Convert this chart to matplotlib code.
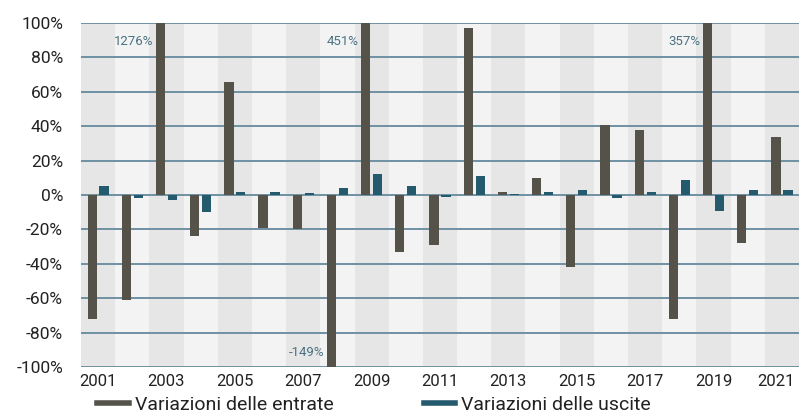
import numpy as np
import matplotlib
matplotlib.use("Agg")
import matplotlib.pyplot as plt
import matplotlib.transforms as mtransforms
from matplotlib.lines import Line2D

plt.rcParams['font.family'] = ['Roboto', 'DejaVu Sans']

# data (percent change)
years = list(range(2001, 2022))
entrate = [-72, -61, 1276, -24, 66, -19, -20, -149, 451, -33, -29, 97,
           2, 10, -42, 41, 38, -72, 357, -28, 34]
uscite = [5, -2, -3, -10, 1.5, 1.5, 1, 4, 12, 5, -1, 11,
          0.5, 2, 3, -2, 1.5, 9, -9, 3, 3]
# values beyond the axis get a label
clipped_labels = {2003: '1276%', 2008: '-149%', 2009: '451%', 2019: '357%'}
yticks = list(range(-100, 101, 20))

col_in = '#55524a'
col_out = '#245a6e'
col_grid = '#6f91a3'
col_note = '#4a7282'

fig = plt.figure(figsize=(7.99, 4.19), dpi=100)
ax = fig.add_axes([0.1014, 0.124, 0.8986, 0.821])

# alternating year bands
for i, y in enumerate(years):
    ax.axvspan(y - 0.5, y + 0.5, color='#e6e6e6' if i % 2 == 0 else '#f3f3f3',
               lw=0, zorder=0)

for t in yticks:
    ax.axhline(t, color=col_grid, lw=1.4, zorder=1)

x = np.array(years)
w = 0.27
off = 0.175
ax.bar(x - off, entrate, width=w, color=col_in, zorder=2)
ax.bar(x + off, uscite, width=w, color=col_out, zorder=2)

for yr, lab in clipped_labels.items():
    v = entrate[years.index(yr)]
    ty = 89 if v > 0 else -91.5
    ax.text(yr - off - w / 2 - 0.06, ty, lab, ha='right', va='center',
            fontsize=9.5, color=col_note, zorder=3)

ax.set_xlim(2000.5, 2021.5)
ax.set_ylim(-100, 100)
ax.set_yticks(yticks)
ax.set_yticklabels([f'{t}%' for t in yticks], fontsize=12.5, color='#222222')
ax.set_xticks(years[::2])
ax.set_xticklabels([str(y) for y in years[::2]], fontsize=12, color='#222222')
ax.tick_params(length=0, pad=5)
ax.tick_params(axis='y', pad=13)
for s in ax.spines.values():
    s.set_visible(False)

# keep the last year label inside the figure
last = ax.get_xticklabels()[-1]
last.set_transform(last.get_transform() +
                   mtransforms.ScaledTranslation(-6 / 100, 0, fig.dpi_scale_trans))

handles = [Line2D([], [], color=col_in, lw=4),
           Line2D([], [], color=col_out, lw=4)]
fig.legend(handles, ['Variazioni delle entrate', 'Variazioni delle uscite'],
           loc='lower left', bbox_to_anchor=(0.1, -0.03), ncol=2, frameon=False,
           fontsize=14, handlelength=1.6, handletextpad=0.35,
           columnspacing=4.6, labelcolor='#222222')

fig.savefig('out.png', dpi=100)
